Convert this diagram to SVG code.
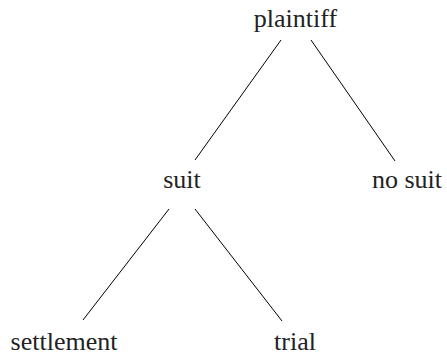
<svg xmlns="http://www.w3.org/2000/svg" width="447" height="356" viewBox="0 0 447 356">
<style>
.t{font-size:26px;fill:#222;text-anchor:middle}
line{stroke:#000;stroke-width:1}
</style>
<rect width="447" height="356" fill="#fff"/>
<g id="connectors">
<line x1="281" y1="40" x2="195" y2="160"/>
<line x1="311" y1="40" x2="395" y2="161"/>
<line x1="169" y1="209" x2="83" y2="320"/>
<line x1="195" y1="209" x2="282" y2="321"/>
</g>
<g font-family="Liberation Serif, Times New Roman, serif">
<g id="plaintiff"><text class="t" x="295.5" y="27">plaintiff</text></g>
<g id="suit"><text class="t" x="182" y="188">suit</text></g>
<g id="nosuit"><text class="t" x="407" y="188">no suit</text></g>
<g id="settlement"><text class="t" x="64" y="350">settlement</text></g>
<g id="trial"><text class="t" x="295" y="350">trial</text></g>
</g>
</svg>
